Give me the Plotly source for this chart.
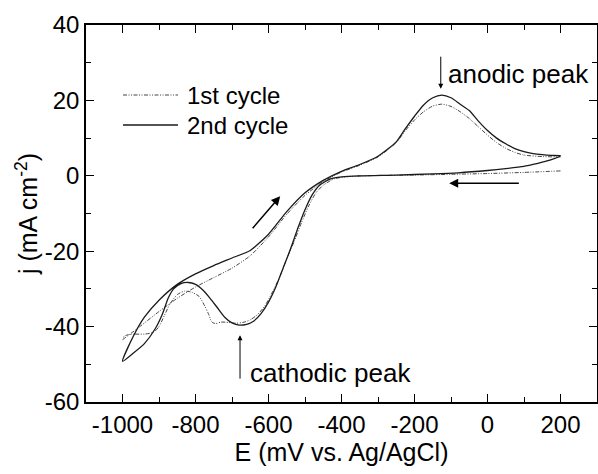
import plotly.graph_objects as go

# 1st cycle (forward scan, then reverse scan)
e_c1_fwd = [-1000, -950, -900, -850, -800, -750, -700, -650, -600, -550, -500, -450, -400, -350, -300,
            -250, -225, -200, -175, -150, -125, -100, -75, -50, -25, 0, 25, 50, 75, 100, 150, 200]
j_c1_fwd = [-43.5, -39.8, -36.0, -32.5, -29.5, -27.0, -24.5, -21.2, -16.2, -10.2, -5.2, -1.5, 1.0, 2.8, 5.0,
            8.8, 12.0, 14.8, 17.0, 18.5, 19.0, 18.4, 17.0, 15.2, 13.0, 10.8, 8.8, 7.3, 6.2, 5.5, 5.1, 5.0]
e_c1_rev = [200, 100, 0, -100, -200, -300, -380, -420, -450, -470, -490, -510, -530, -550, -570, -590,
            -610, -630, -650, -670, -690, -710, -730, -745, -755, -765, -775, -790, -810, -830, -850,
            -870, -885, -900, -915, -940, -970, -990, -1000]
j_c1_rev = [1.3, 0.9, 0.6, 0.4, 0.2, 0.1, -0.2, -0.8, -2.5, -4.5, -8.0, -12.5, -17.5, -22.0, -27.0, -31.0,
            -34.5, -36.8, -38.2, -38.9, -39.1, -38.9, -38.8, -39.2, -38.8, -36.5, -34.5, -32.0, -30.9, -30.6, -31.5,
            -34.0, -37.0, -40.0, -41.5, -42.0, -42.0, -42.3, -43.0]

# 2nd cycle (forward scan, then reverse scan)
e_c2 = [-1000, -970, -940, -900, -850, -800, -750, -700, -650, -600, -550, -500, -450, -400, -350, -300,
        -250, -225, -200, -175, -150, -125, -100, -75, -50, -25, 0, 25, 50, 75, 100, 125, 150, 175, 200,
        175, 150, 125, 100, 50, 0, -80, -150, -250, -350, -400, -430, -460, -480, -500, -520, -540, -560,
        -580, -600, -620, -640, -660, -680, -700, -720, -740, -760, -780, -800, -820, -840, -860, -875,
        -890, -910, -940, -970, -1000]
j_c2 = [-49.2, -42.5, -37.5, -33.0, -28.8, -26.0, -23.8, -21.8, -19.8, -15.5, -9.5, -4.5, -1.2, 1.2, 3.0, 5.2,
        9.0, 12.5, 15.8, 18.8, 20.7, 21.4, 20.7, 19.0, 17.3, 14.5, 12.0, 10.0, 8.5, 7.2, 6.4, 5.9, 5.6, 5.4, 5.3,
        4.3, 3.6, 3.0, 2.5, 1.9, 1.4, 0.8, 0.5, 0.2, 0.0, -0.3, -0.8, -2.5, -5.0, -9.0, -14.0, -19.5, -24.5,
        -29.5, -33.5, -36.5, -38.5, -39.4, -39.6, -39.0, -37.5, -35.0, -32.5, -30.3, -28.8, -28.3, -28.6, -30.0, -32.5,
        -36.5, -40.5, -44.5, -47.0, -49.2]

x_ticks = [-1000, -800, -600, -400, -200, 0, 200]
y_ticks = [-60, -40, -20, 0, 20, 40]
legend_names = ["1st cycle", "2nd cycle"]

FONT = "Liberation Sans, Arial, sans-serif"
DASH1 = "4px,1.5px,1px,1.5px,1px,1.5px"

e_c1 = e_c1_fwd + [None] + e_c1_rev
j_c1 = j_c1_fwd + [None] + j_c1_rev

fig = go.Figure()
fig.add_trace(go.Scatter(x=e_c1, y=j_c1, mode="lines", name=legend_names[0],
                         line=dict(color="#444444", width=1, dash=DASH1, shape="spline", smoothing=0.6),
                         connectgaps=False, showlegend=False))
fig.add_trace(go.Scatter(x=e_c2, y=j_c2, mode="lines", name=legend_names[1],
                         line=dict(color="#1a1a1a", width=1.3, shape="spline", smoothing=0.6),
                         showlegend=False))

# manual legend (paper coordinates)
shapes = []
annotations = []
for i, (nm, dash, col, w) in enumerate([(legend_names[0], DASH1, "#444444", 1),
                                         (legend_names[1], "solid", "#1a1a1a", 1.3)]):
    yp = 1 - (95 + 30 * i - 25) / 377
    x0 = (123 - 86) / 511
    x1 = (178 - 86) / 511
    shapes.append(dict(type="line", xref="paper", yref="paper", x0=x0, x1=x1, y0=yp, y1=yp,
                       line=dict(color=col, width=w, dash=dash)))
    annotations.append(dict(xref="paper", yref="paper", x=(185 - 86) / 511, y=yp, text=nm,
                            showarrow=False, xanchor="left", yanchor="middle",
                            font=dict(family=FONT, size=24, color="#000")))

# arrows
annotations += [
    dict(x=-568, y=-5.4, ax=-647, ay=-14.3, xref="x", yref="y", axref="x", ayref="y", text="",
         showarrow=True, arrowhead=2, arrowsize=1.2, arrowwidth=1.5, arrowcolor="#000"),
    dict(x=-105, y=-2.0, ax=90, ay=-2.0, xref="x", yref="y", axref="x", ayref="y", text="",
         showarrow=True, arrowhead=2, arrowsize=1.2, arrowwidth=1.5, arrowcolor="#000"),
    dict(x=-128, y=23.1, ax=-128, ay=32.0, xref="x", yref="y", axref="x", ayref="y", text="",
         showarrow=True, arrowhead=2, arrowsize=1, arrowwidth=1, arrowcolor="#000"),
    dict(x=-678, y=-42.3, ax=-678, ay=-54.2, xref="x", yref="y", axref="x", ayref="y", text="",
         showarrow=True, arrowhead=2, arrowsize=1, arrowwidth=1, arrowcolor="#000"),
    dict(x=-113, y=27.0, xref="x", yref="y", text="anodic peak", showarrow=False,
         xanchor="left", yanchor="middle", font=dict(family=FONT, size=26, color="#000")),
    dict(x=-655, y=-52.4, xref="x", yref="y", text="cathodic peak", showarrow=False,
         xanchor="left", yanchor="middle", font=dict(family=FONT, size=26, color="#000")),
]

axis_common = dict(showgrid=False, zeroline=False, showline=True, linecolor="#000", linewidth=1.5,
                   mirror="ticks", ticks="inside", ticklen=8, tickwidth=1.3, tickcolor="#000",
                   automargin=False,
                   tickfont=dict(family=FONT, size=24, color="#000"))

fig.update_layout(
    width=598, height=474,
    margin=dict(l=86, r=1, t=25, b=72),
    paper_bgcolor="white", plot_bgcolor="white",
    font=dict(family=FONT, color="#000"),
    shapes=shapes, annotations=annotations,
    xaxis=dict(range=[-1100, 300], tickvals=x_ticks, ticktext=[str(v) for v in x_ticks],
               minor=dict(ticks="inside", ticklen=5, tickwidth=1.3, tickcolor="#000", dtick=100, tick0=0),
               title=dict(text="E (mV vs. Ag/AgCl)", font=dict(family=FONT, size=25), standoff=4),
               **axis_common),
    yaxis=dict(range=[-60, 40], tickvals=y_ticks, ticktext=[str(v) for v in y_ticks],
               minor=dict(ticks="inside", ticklen=5, tickwidth=1.3, tickcolor="#000", dtick=10, tick0=0),
               title=dict(text="j (mA cm<sup>-2</sup>)", font=dict(family=FONT, size=25), standoff=0),
               **axis_common),
)

fig.write_html("out.html", config={"displayModeBar": False},
               post_script="document.body.style.margin='0';document.body.style.overflow='hidden';")
